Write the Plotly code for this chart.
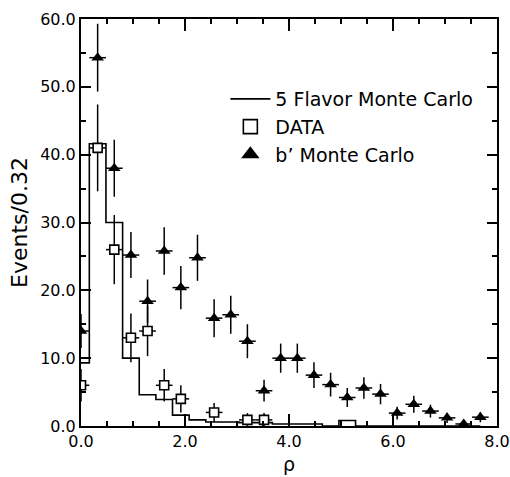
import plotly.graph_objects as go

# bin centers (bin width 0.32)
bin_centers = [0.00, 0.32, 0.64, 0.96, 1.28, 1.60, 1.92, 2.24, 2.56, 2.88,
               3.20, 3.52, 3.84, 4.16, 4.48, 4.80, 5.12, 5.44, 5.76, 6.08,
               6.40, 6.72, 7.04, 7.36, 7.68]

# 5 Flavor Monte Carlo (histogram)
mc5_values = [9.3, 41.6, 30.0, 10.0, 4.6, 3.9, 1.6, 0.9, 0.6, 0.6,
              0.5, 0.5, 0.3, 0.3, 0.3, 0.0, 0.8, 0.0, 0.0, 0.0,
              0.0, 0.0, 0.0, 0.0, 0.0]

# DATA
data_x = [0.00, 0.32, 0.64, 0.96, 1.28, 1.60, 1.92, 2.56, 3.20, 3.52]
data_y = [6.0, 41.0, 26.0, 13.0, 14.0, 6.0, 4.0, 2.0, 0.9, 0.9]
data_err = [2.4, 6.4, 5.1, 3.6, 3.7, 2.4, 2.0, 1.4, 1.0, 1.0]

# b' Monte Carlo
bp_y = [14.0, 54.3, 38.0, 25.2, 18.4, 25.8, 20.4, 24.8, 15.9, 16.4,
        12.5, 5.2, 10.0, 10.0, 7.5, 6.1, 4.2, 5.6, 4.7, 1.9,
        3.2, 2.2, 1.2, 0.3, 1.3]
bp_err = [2.5, 5.0, 4.2, 3.4, 3.2, 3.5, 3.2, 3.4, 2.8, 2.8,
          2.5, 1.6, 2.15, 2.15, 1.9, 1.75, 1.4, 1.6, 1.5, 0.95,
          1.25, 0.95, 0.75, 0.4, 0.75]

half_bin = 0.16
x_ticks = [0, 2, 4, 6, 8]
x_ticklabels = ["0.0", "2.0", "4.0", "6.0", "8.0"]
y_ticks = [0, 10, 20, 30, 40, 50, 60]
y_ticklabels = ["0.0", "10.0", "20.0", "30.0", "40.0", "50.0", "60.0"]

FONT = "DejaVu Sans"
fig = go.Figure()

fig.add_trace(go.Scatter(
    x=bin_centers, y=mc5_values, mode="lines", line_shape="hvh",
    line=dict(color="black", width=1.6), showlegend=False, cliponaxis=True))

fig.add_trace(go.Scatter(
    x=bin_centers, y=bp_y, mode="markers",
    marker=dict(symbol="triangle-up", size=11, color="black"),
    error_y=dict(type="data", array=bp_err, color="black", thickness=1.5, width=0),
    error_x=dict(type="constant", value=half_bin, color="black", thickness=1.5, width=0),
    showlegend=False))

fig.add_trace(go.Scatter(
    x=data_x, y=data_y, mode="markers",
    marker=dict(symbol="square", size=9, color="white", line=dict(width=1.6, color="black")),
    error_y=dict(type="data", array=data_err, color="black", thickness=1.5, width=0),
    error_x=dict(type="constant", value=half_bin, color="black", thickness=1.5, width=0),
    showlegend=False))

# legend entries
fig.add_trace(go.Scatter(x=[None], y=[None], mode="lines", name="5 Flavor Monte Carlo",
                         line=dict(color="black", width=1.6), legendgroup="a"))
fig.add_trace(go.Scatter(x=[None], y=[None], mode="markers", name="DATA", legendgroup="b",
                         marker=dict(symbol="square", size=14, color="white",
                                     line=dict(width=1.6, color="black"))))
fig.add_trace(go.Scatter(x=[None], y=[None], mode="markers", name="b\u2019 Monte Carlo",
                         legendgroup="c",
                         marker=dict(symbol="triangle-up", size=16, color="black")))

axis_common = dict(
    showline=True, linecolor="black", linewidth=2, mirror="allticks",
    ticks="inside", tickcolor="black", tickwidth=1.5,
    showgrid=False, zeroline=False, automargin=False,
    tickfont=dict(family=FONT, size=16, color="black"),
)

fig.update_xaxes(range=[0, 8], tickvals=x_ticks, ticktext=x_ticklabels, ticklen=12,
                 minor=dict(dtick=0.5, tick0=0, ticks="inside", ticklen=5,
                            tickcolor="black", tickwidth=1.5),
                 title=dict(text="\u03c1", font=dict(family=FONT, size=19, color="black"),
                            standoff=7),
                 **axis_common)
fig.update_yaxes(range=[0, 60], tickvals=y_ticks, ticktext=y_ticklabels, ticklen=10,
                 minor=dict(dtick=5, tick0=0, ticks="inside", ticklen=5,
                            tickcolor="black", tickwidth=1.5),
                 title=dict(text="Events/0.32", font=dict(family=FONT, size=22, color="black"),
                            standoff=6),
                 **axis_common)

fig.update_layout(
    width=510, height=477,
    margin=dict(l=81, r=13, t=19, b=51),
    plot_bgcolor="white", paper_bgcolor="white",
    font=dict(family=FONT, color="black"),
    legend=dict(x=0.347, y=0.85, xanchor="left", yanchor="top",
                font=dict(family=FONT, size=19, color="black"),
                bgcolor="rgba(0,0,0,0)", itemwidth=40, tracegroupgap=0),
)

fig.write_html("out.html", config={"displayModeBar": False},
               post_script="document.body.style.margin='0px';document.body.style.overflow='hidden';")
